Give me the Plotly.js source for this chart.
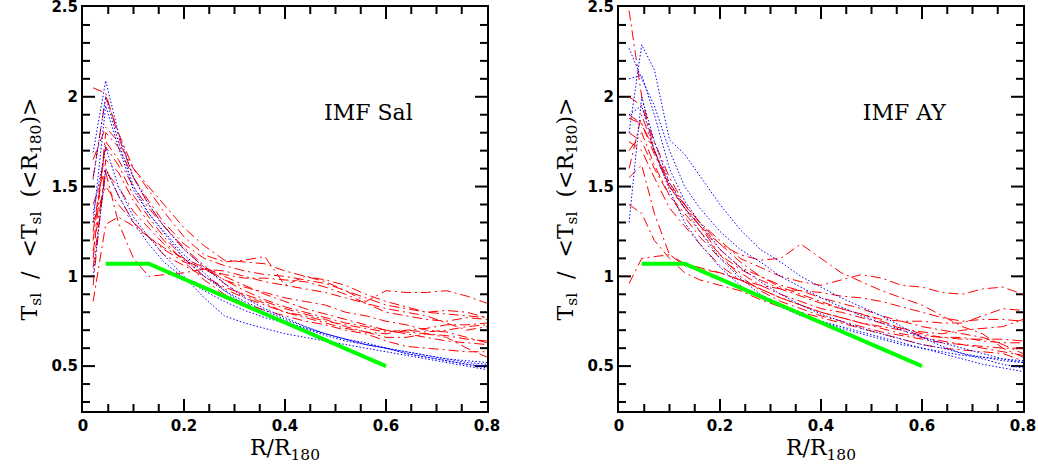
<!DOCTYPE html>
<html>
<head>
<meta charset="utf-8">
<script src="https://cdn.plot.ly/plotly-3.0.1.min.js"></script>
<style>html,body{margin:0;padding:0;background:#fff;}#chart{width:1038px;height:476px;}</style>
</head>
<body>
<div id="chart"></div>
<script>
// radial bins R/R180
const radius = [0.02, 0.045, 0.07, 0.1, 0.13, 0.16, 0.2, 0.24, 0.28, 0.32, 0.36, 0.4, 0.44, 0.48, 0.52, 0.56, 0.6, 0.64, 0.68, 0.72, 0.76, 0.8];

// IMF Sal panel: red (dash-dot) profiles
const salRed = [
  [2.05, 2.02, 1.78, 1.55, 1.40, 1.28, 1.15, 1.05, 1.00, 0.95, 0.90, 0.86, 0.82, 0.79, 0.76, 0.73, 0.70, 0.68, 0.66, 0.64, 0.63, 0.62],
  [1.65, 1.83, 1.75, 1.60, 1.48, 1.36, 1.22, 1.12, 1.08, 1.09, 1.11, 0.95, 1.00, 0.97, 0.92, 0.86, 0.92, 0.91, 0.91, 0.92, 0.89, 0.85],
  [1.10, 1.80, 1.72, 1.55, 1.42, 1.30, 1.18, 1.10, 1.06, 1.03, 1.01, 1.00, 0.98, 0.96, 0.92, 0.88, 0.84, 0.82, 0.80, 0.79, 0.78, 0.77],
  [1.40, 1.60, 1.45, 1.30, 1.22, 1.15, 1.08, 1.04, 1.01, 0.99, 0.99, 0.98, 0.97, 0.94, 0.90, 0.85, 0.80, 0.78, 0.76, 0.75, 0.77, 0.76],
  [1.14, 1.58, 1.30, 1.10, 1.00, 1.01, 1.02, 1.04, 1.03, 1.00, 0.97, 0.95, 0.93, 0.91, 0.88, 0.85, 0.82, 0.80, 0.78, 0.74, 0.70, 0.72],
  [0.86, 1.29, 1.33, 1.28, 1.22, 1.16, 1.10, 1.05, 0.98, 0.92, 0.87, 0.83, 0.80, 0.77, 0.74, 0.72, 0.70, 0.69, 0.68, 0.67, 0.65, 0.64],
  [1.55, 2.00, 1.80, 1.60, 1.50, 1.40, 1.27, 1.17, 1.09, 1.08, 1.07, 1.03, 1.00, 0.98, 0.95, 0.90, 0.86, 0.83, 0.80, 0.81, 0.80, 0.77],
  [1.20, 1.75, 1.65, 1.50, 1.38, 1.28, 1.16, 1.06, 0.96, 0.89, 0.85, 0.80, 0.78, 0.75, 0.73, 0.71, 0.69, 0.70, 0.69, 0.70, 0.72, 0.73],
  [1.25, 1.72, 1.62, 1.45, 1.33, 1.22, 1.10, 1.00, 0.93, 0.88, 0.84, 0.80, 0.77, 0.74, 0.71, 0.69, 0.66, 0.66, 0.68, 0.66, 0.60, 0.55],
  [0.95, 1.65, 1.58, 1.42, 1.30, 1.20, 1.08, 0.98, 0.90, 0.85, 0.81, 0.78, 0.75, 0.73, 0.70, 0.68, 0.64, 0.61, 0.60, 0.59, 0.58, 0.58],
  [1.05, 1.58, 1.50, 1.36, 1.27, 1.18, 1.09, 1.04, 0.98, 0.94, 0.91, 0.88, 0.86, 0.84, 0.80, 0.78, 0.75, 0.73, 0.70, 0.69, 0.66, 0.63],
  [1.30, 1.50, 1.40, 1.30, 1.22, 1.12, 1.06, 1.00, 0.94, 0.90, 0.86, 0.82, 0.79, 0.76, 0.72, 0.69, 0.68, 0.70, 0.71, 0.73, 0.73, 0.74]
];
// IMF Sal panel: blue (dotted) profiles
const salBlue = [
  [1.69, 2.09, 1.80, 1.55, 1.40, 1.28, 1.15, 1.05, 0.96, 0.88, 0.82, 0.77, 0.72, 0.68, 0.65, 0.62, 0.60, 0.58, 0.56, 0.54, 0.53, 0.52],
  [1.54, 2.00, 1.75, 1.50, 1.35, 1.25, 1.12, 1.02, 0.92, 0.86, 0.81, 0.76, 0.72, 0.68, 0.65, 0.62, 0.60, 0.57, 0.55, 0.53, 0.51, 0.50],
  [1.35, 1.72, 1.50, 1.33, 1.22, 1.12, 1.00, 0.88, 0.78, 0.74, 0.71, 0.68, 0.66, 0.64, 0.62, 0.60, 0.58, 0.56, 0.54, 0.52, 0.50, 0.48],
  [1.30, 1.95, 1.72, 1.48, 1.35, 1.24, 1.10, 1.00, 0.92, 0.84, 0.79, 0.75, 0.71, 0.68, 0.65, 0.63, 0.60, 0.58, 0.56, 0.54, 0.52, 0.51],
  [1.00, 1.60, 1.45, 1.30, 1.18, 1.08, 0.99, 0.92, 0.86, 0.81, 0.77, 0.74, 0.71, 0.67, 0.64, 0.62, 0.60, 0.57, 0.55, 0.53, 0.51, 0.49]
];

// IMF AY panel: red (dash-dot) profiles
const ayRed = [
  [2.48, 2.00, 1.70, 1.50, 1.38, 1.28, 1.15, 1.05, 1.00, 0.95, 0.92, 0.88, 0.85, 0.82, 0.78, 0.75, 0.72, 0.70, 0.68, 0.66, 0.62, 0.57],
  [0.96, 1.10, 1.11, 1.12, 1.06, 1.04, 1.02, 0.98, 0.93, 0.88, 0.84, 0.80, 0.77, 0.74, 0.71, 0.68, 0.66, 0.64, 0.62, 0.60, 0.58, 0.56],
  [1.60, 1.90, 1.70, 1.50, 1.38, 1.28, 1.18, 1.12, 1.09, 1.10, 1.18, 1.10, 1.02, 0.97, 0.92, 0.88, 0.84, 0.78, 0.72, 0.68, 0.60, 0.55],
  [1.88, 1.85, 1.70, 1.52, 1.40, 1.30, 1.20, 1.10, 1.05, 1.00, 0.97, 0.95, 0.98, 1.01, 0.99, 0.95, 0.94, 0.91, 0.90, 0.93, 0.94, 0.90],
  [1.55, 1.62, 1.35, 1.12, 1.07, 1.05, 1.02, 0.98, 0.95, 0.93, 0.92, 0.91, 0.89, 0.88, 0.86, 0.83, 0.80, 0.77, 0.75, 0.76, 0.76, 0.75],
  [1.80, 1.75, 1.60, 1.45, 1.35, 1.25, 1.12, 1.04, 0.98, 0.93, 0.89, 0.85, 0.82, 0.79, 0.76, 0.75, 0.75, 0.74, 0.74, 0.78, 0.82, 0.81],
  [1.90, 1.85, 1.68, 1.50, 1.40, 1.30, 1.18, 1.08, 1.00, 0.94, 0.90, 0.86, 0.82, 0.79, 0.75, 0.71, 0.69, 0.68, 0.70, 0.71, 0.72, 0.76],
  [1.70, 1.80, 1.62, 1.45, 1.33, 1.22, 1.10, 1.02, 0.95, 0.90, 0.86, 0.82, 0.80, 0.77, 0.74, 0.71, 0.68, 0.66, 0.65, 0.65, 0.65, 0.64],
  [1.75, 1.70, 1.55, 1.38, 1.28, 1.18, 1.06, 0.98, 0.93, 0.88, 0.84, 0.80, 0.77, 0.74, 0.72, 0.70, 0.67, 0.66, 0.66, 0.64, 0.63, 0.63],
  [2.00, 1.95, 1.75, 1.55, 1.40, 1.28, 1.12, 1.00, 0.92, 0.86, 0.82, 0.78, 0.75, 0.72, 0.69, 0.67, 0.65, 0.63, 0.62, 0.61, 0.60, 0.60],
  [1.40, 1.35, 1.20, 1.10, 1.02, 0.98, 0.95, 0.92, 0.87, 0.83, 0.80, 0.77, 0.74, 0.71, 0.68, 0.65, 0.62, 0.60, 0.59, 0.58, 0.57, 0.53]
];
// IMF AY panel: blue (dotted) profiles
const ayBlue = [
  [1.80, 2.29, 2.15, 1.76, 1.68, 1.56, 1.40, 1.26, 1.15, 1.08, 1.00, 0.94, 0.88, 0.83, 0.78, 0.72, 0.66, 0.61, 0.57, 0.55, 0.54, 0.53],
  [2.27, 2.10, 1.95, 1.70, 1.50, 1.38, 1.25, 1.15, 1.08, 1.00, 0.94, 0.88, 0.83, 0.78, 0.74, 0.70, 0.66, 0.63, 0.60, 0.57, 0.54, 0.52],
  [2.10, 2.12, 1.90, 1.60, 1.42, 1.30, 1.15, 1.05, 0.97, 0.90, 0.84, 0.79, 0.75, 0.71, 0.68, 0.65, 0.62, 0.60, 0.57, 0.54, 0.51, 0.49],
  [1.30, 2.00, 1.75, 1.52, 1.38, 1.25, 1.10, 0.99, 0.90, 0.84, 0.79, 0.75, 0.71, 0.68, 0.65, 0.62, 0.60, 0.57, 0.54, 0.51, 0.49, 0.47],
  [1.90, 1.95, 1.70, 1.48, 1.30, 1.18, 1.05, 0.95, 0.88, 0.83, 0.78, 0.75, 0.72, 0.69, 0.66, 0.63, 0.60, 0.58, 0.56, 0.55, 0.53, 0.52]
];

// green reference model
const modelR = [0.045, 0.13, 0.6];
const modelT = [1.07, 1.07, 0.5];

// axes
const xRange = [0, 0.8];
const yRange = [0.25, 2.5];
const xMajor = [0, 0.2, 0.4, 0.6, 0.8];
const xMajorText = ['0', '0.2', '0.4', '0.6', '0.8'];
const xMinorStep = 0.05;
const yMajor = [0.5, 1, 1.5, 2, 2.5];
const yMajorText = ['0.5', '1', '1.5', '2', '2.5'];
const yMinorStep = 0.1;

const panelLabels = ['IMF Sal', 'IMF AY'];
const panelLabelPos = {x: 0.565, y: 1.9};
const xTitle = 'R/R<sub>180</sub>';
const yTitle = 'T<sub>sl</sub>  /  &lt;T<sub>sl</sub>  (&lt;R<sub>180</sub>)&gt;';

const titleFont = {family: 'DejaVu Serif, serif', size: 22, color: '#000'};
const tickFont = {family: 'DejaVu Sans, sans-serif', size: 15, color: '#000', weight: 'bold'};

const traces = [];

// inside tick marks on all four sides (axis decoration), sized in pixels and converted to data units
const plotPx = 404;
const majLen = 12, minLen = 7;
function tickTrace(xa, ya) {
  const xPerPx = (xRange[1] - xRange[0]) / plotPx, yPerPx = (yRange[1] - yRange[0]) / plotPx;
  const tx = [], ty = [];
  for (let k = 1; k * xMinorStep < xRange[1] - 1e-9; k++) {
    const v = +(k * xMinorStep).toFixed(3);
    const len = (xMajor.some(m => Math.abs(m - v) < 1e-9) ? majLen : minLen) * yPerPx;
    tx.push(v, v, null, v, v, null);
    ty.push(yRange[0], yRange[0] + len, null, yRange[1], yRange[1] - len, null);
  }
  for (let k = 3; k * yMinorStep < yRange[1] - 1e-9; k++) {
    const v = +(k * yMinorStep).toFixed(3);
    const len = (yMajor.some(m => Math.abs(m - v) < 1e-9) ? majLen : minLen) * xPerPx;
    tx.push(xRange[0], xRange[0] + len, null, xRange[1], xRange[1] - len, null);
    ty.push(v, v, null, v, v, null);
  }
  traces.push({x: tx, y: ty, xaxis: xa, yaxis: ya, mode: 'lines', type: 'scatter', connectgaps: false,
    line: {color: '#000', width: 2}});
}
tickTrace('x', 'y');
tickTrace('x2', 'y2');

// each family of profiles as one trace, profiles separated by gaps
function family(series, xa, ya, line) {
  const fx = [], fy = [];
  series.forEach(v => { fx.push(...radius, null); fy.push(...v, null); });
  traces.push({x: fx, y: fy, xaxis: xa, yaxis: ya, mode: 'lines', type: 'scatter', connectgaps: false, line: line});
}
const redLine = {color: 'rgb(255,0,0)', width: 1, dash: '10px,4px,2px,4px'};
const blueLine = {color: 'rgb(0,0,255)', width: 1, dash: '1.5px,2px'};
const greenLine = {color: 'rgb(0,255,0)', width: 4};
family(salRed, 'x', 'y', redLine);
family(salBlue, 'x', 'y', blueLine);
family(ayRed, 'x2', 'y2', redLine);
family(ayBlue, 'x2', 'y2', blueLine);
traces.push({x: modelR, y: modelT, xaxis: 'x', yaxis: 'y', mode: 'lines', type: 'scatter', line: greenLine});
traces.push({x: modelR, y: modelT, xaxis: 'x2', yaxis: 'y2', mode: 'lines', type: 'scatter', line: greenLine});

// panel labels as text marks
traces.push({x: [panelLabelPos.x], y: [panelLabelPos.y], xaxis: 'x', yaxis: 'y', mode: 'text', type: 'scatter',
  text: [panelLabels[0]], textfont: titleFont, textposition: 'middle center'});
traces.push({x: [panelLabelPos.x], y: [panelLabelPos.y], xaxis: 'x2', yaxis: 'y2', mode: 'text', type: 'scatter',
  text: [panelLabels[1]], textfont: titleFont, textposition: 'middle center'});

function xaxisDef(domain, anchor) {
  return {domain: domain, anchor: anchor, range: xRange, tickmode: 'array', tickvals: xMajor, ticktext: xMajorText,
    ticks: '', showline: true, linecolor: '#000', linewidth: 2, mirror: true, showgrid: false, zeroline: false,
    tickfont: tickFont, ticklabeloverflow: 'allow',
    title: {text: xTitle, font: titleFont, standoff: 6}};
}
function yaxisDef(anchor) {
  return {domain: [0, 1], anchor: anchor, range: yRange, tickmode: 'array', tickvals: yMajor, ticktext: yMajorText,
    ticks: '', showline: true, linecolor: '#000', linewidth: 2, mirror: true, showgrid: false, zeroline: false,
    tickfont: tickFont, ticklabeloverflow: 'allow',
    title: {text: yTitle, font: titleFont, standoff: 8}};
}

const d1 = [0, 404 / 940], d2 = [536 / 940, 1];
const layout = {
  width: 1038, height: 476, showlegend: false,
  margin: {l: 83, r: 15, t: 7, b: 65},
  xaxis: xaxisDef(d1, 'y'), yaxis: yaxisDef('x'),
  xaxis2: xaxisDef(d2, 'y2'), yaxis2: yaxisDef('x2')
};
Plotly.newPlot('chart', traces, layout, {displayModeBar: false});
</script>
</body>
</html>
